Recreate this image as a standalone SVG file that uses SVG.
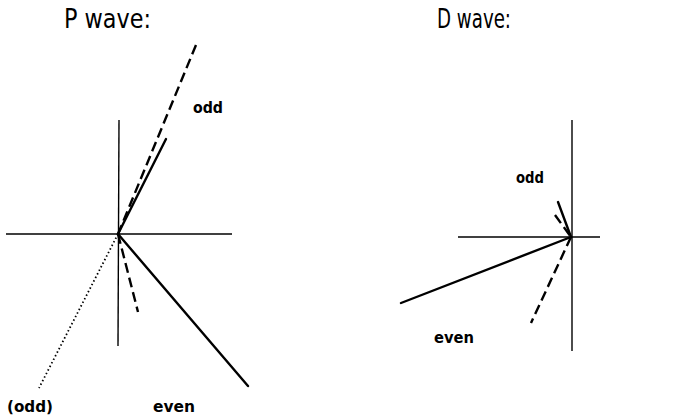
<svg xmlns="http://www.w3.org/2000/svg" width="675" height="417" viewBox="0 0 675 417">
<style>
.t{font-family:"DejaVu Sans","Liberation Sans",sans-serif;fill:#000}
.title{font-size:27px}
.lbl{font-size:16px;font-weight:bold}
.axis{stroke:#000;stroke-width:1.4;fill:none}
.solid{stroke:#000;stroke-width:2.4;fill:none;stroke-linecap:round}
.dash{stroke:#000;stroke-width:2.4;fill:none;stroke-dasharray:10,5}
.dot{stroke:#000;stroke-width:1.8;fill:none;stroke-dasharray:1.5,2.5}
</style>
<rect width="675" height="417" fill="#fff"/>
<g id="pwave">
<text class="t title" x="64" y="28" textLength="87" lengthAdjust="spacingAndGlyphs">P wave:</text>
<line class="axis" x1="6" y1="234" x2="232" y2="234"/>
<line class="axis" x1="119" y1="120" x2="118" y2="346"/>
<text class="t lbl" x="193" y="113" textLength="30" lengthAdjust="spacingAndGlyphs">odd</text>
<text class="t lbl" x="7" y="412" textLength="46" lengthAdjust="spacingAndGlyphs">(odd)</text>
<text class="t lbl" x="153" y="412" textLength="42" lengthAdjust="spacingAndGlyphs">even</text>
</g>
<g id="dwave">
<text class="t title" x="437" y="28" textLength="74" lengthAdjust="spacingAndGlyphs">D wave:</text>
<line class="axis" x1="458" y1="237" x2="600" y2="237"/>
<line class="axis" x1="572" y1="120" x2="572" y2="351"/>
<text class="t lbl" x="516" y="183" textLength="28" lengthAdjust="spacingAndGlyphs">odd</text>
<text class="t lbl" x="434" y="343" textLength="40" lengthAdjust="spacingAndGlyphs">even</text>
</g>
<g id="connectors">
<line class="dash" x1="196" y1="45" x2="118" y2="234"/>
<line class="solid" x1="166" y1="139" x2="118" y2="234"/>
<line class="solid" x1="118" y1="234" x2="248" y2="386"/>
<line class="dash" x1="118" y1="234" x2="138" y2="312"/>
<line class="dot" x1="118" y1="234" x2="39" y2="388"/>
<line class="solid" x1="571" y1="237" x2="401" y2="303"/>
<line class="dash" x1="571" y1="237" x2="531" y2="323"/>
<line class="solid" x1="558" y1="202" x2="571" y2="237"/>
<line class="dash" x1="555" y1="215" x2="571" y2="237"/>
</g>
</svg>
